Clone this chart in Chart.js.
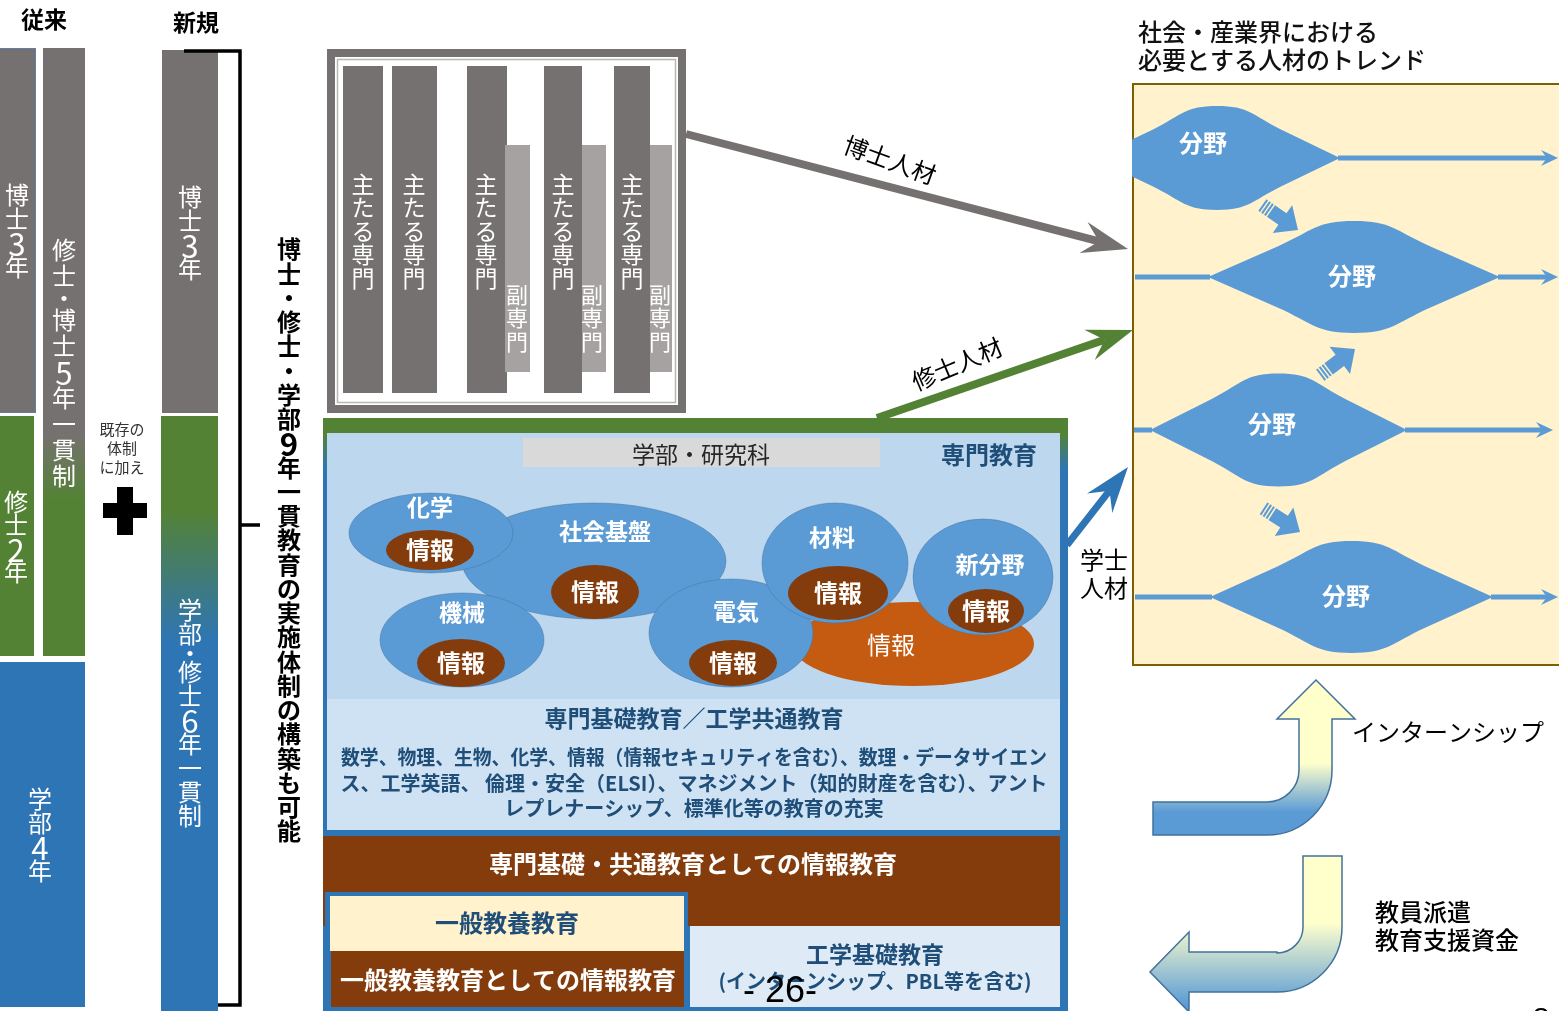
<!DOCTYPE html>
<html lang="ja">
<head>
<meta charset="utf-8">
<title>博士・修士・学部一貫教育の実施体制</title>
<script src="https://cdn.jsdelivr.net/npm/chart.js@4/dist/chart.umd.min.js"></script>
<style>
    html, body { margin: 0; padding: 0; background: #fff; overflow: hidden; }
    #wrap { position: relative; width: 1559px; height: 1011px; }
</style>
</head>
<body>
<div id="wrap"><canvas id="chart"></canvas></div>
<script>
// =============================================
// Data (texts of the diagram)
// =============================================
const headers = ['従来', '新規'];
const oldCourses = ['博士3年', '修士2年', '学部4年'];
const oldIntegrated = '修士・博士5年一貫制';
const newCourses = ['博士3年', '学部・修士6年一貫制'];
const bracketNote = '博士・修士・学部9年一貫教育の実施体制の構築も可能';
const addNote = ['既存の', '体制', 'に加え'];
const majorLabel = '主たる専門';
const minorLabel = '副専門';
const majorHasMinor = [false, false, true, true, true];
const talentLabels = ['博士人材', '修士人材', '学士', '人材'];
const schoolLabel = '学部・研究科';
const specialistLabel = '専門教育';
const fields = ['社会基盤', '化学', '機械', '電気', '材料', '新分野'];
const infoLabel = '情報';
const foundationTitle = '専門基礎教育／工学共通教育';
const foundationLines = [
    '数学、物理、生物、化学、情報（情報セキュリティを含む）、数理・データサイエン',
    'ス、工学英語、 倫理・安全（ELSI）、マネジメント（知的財産を含む）、アント',
    'レプレナーシップ、標準化等の教育の充実'
];
const infoBand = '専門基礎・共通教育としての情報教育';
const liberalArts = ['一般教養教育', '一般教養教育としての情報教育'];
const engBasics = ['工学基礎教育', '(インターンシップ、PBL等を含む)'];
const trendTitle = ['社会・産業界における', '必要とする人材のトレンド'];
const trendFields = ['分野', '分野', '分野', '分野'];
const exchangeLabels = ['インターンシップ', '教員派遣', '教育支援資金'];
const pageNumbers = ['- 26-', '8'];

// =============================================
// Styles
// =============================================
const FONT = '"Noto Sans CJK JP", "Noto Sans", sans-serif';
const C = {
    gray: '#767171', grayLight: '#a5a2a1', green: '#548235', blue: '#2e75b6',
    sky: '#bdd7ee', skyLight: '#cfe2f3', pale: '#deebf7', brown: '#843c0c',
    orange: '#c55a11', bubble: '#5b9bd5', cream: '#fff2cc', navy: '#1f4e79',
    gold: '#7f6000', yellow: '#ffffcc', outline: '#41719c'
};

// =============================================
// Diagram plugin (everything is placed through the chart scales)
// =============================================
const diagram = {
    id: 'diagram',
    afterDraw(chart) {
        const ctx = chart.ctx;
        const sx = chart.scales.x, sy = chart.scales.y;
        const X = v => sx.getPixelForValue(v);
        const Y = v => sy.getPixelForValue(v);

        function box(x0, y0, x1, y1, fill) {
            ctx.fillStyle = fill;
            ctx.fillRect(X(x0), Y(y0), X(x1) - X(x0), Y(y1) - Y(y0));
        }
        function vGrad(y0, y1, c0, c1) {
            const g = ctx.createLinearGradient(0, Y(y0), 0, Y(y1));
            g.addColorStop(0, c0);
            g.addColorStop(1, c1);
            return g;
        }
        function txt(s, x, y, size, color, weight, opt) {
            opt = opt || {};
            ctx.font = (weight || 'normal') + ' ' + size + 'px ' + (opt.family || FONT);
            ctx.fillStyle = color;
            ctx.textAlign = opt.align || 'center';
            ctx.textBaseline = 'middle';
            if (opt.maxWidth) ctx.fillText(s, X(x), Y(y), opt.maxWidth);
            else ctx.fillText(s, X(x), Y(y));
        }
        // stacked vertical text; digits drawn larger, dotStep shortens the middle dot
        function vtxt(s, cx, y0, size, step, color, weight, dotStep) {
            let y = y0;
            Array.from(s).forEach(ch => {
                const st = (ch === '・' && dotStep) ? dotStep : step;
                const isDigit = /[0-9]/.test(ch);
                txt(ch, cx, y + st / 2 + (isDigit ? 1 : 0), isDigit ? size * 1.3 : size, color, weight);
                y += st;
            });
        }
        function rtxt(s, x, y, deg, size, color) {
            ctx.save();
            ctx.translate(X(x), Y(y));
            ctx.rotate(deg * Math.PI / 180);
            ctx.font = 'normal ' + size + 'px ' + FONT;
            ctx.fillStyle = color;
            ctx.textAlign = 'center';
            ctx.textBaseline = 'middle';
            ctx.fillText(s, 0, 0);
            ctx.restore();
        }
        function ell(cx, cy, rx, ry, fill, stroke) {
            ctx.beginPath();
            ctx.ellipse(X(cx), Y(cy), rx, ry, 0, 0, Math.PI * 2);
            ctx.fillStyle = fill;
            ctx.fill();
            if (stroke) {
                ctx.lineWidth = 1;
                ctx.strokeStyle = stroke;
                ctx.stroke();
            }
        }
        function bigArrow(x0, y0, x1, y1, color, width) {
            const dx = x1 - x0, dy = y1 - y0, len = Math.hypot(dx, dy);
            const ux = dx / len, uy = dy / len, nx = -uy, ny = ux;
            const L = 46, W = 16, notch = 30;
            ctx.strokeStyle = color;
            ctx.lineWidth = width;
            ctx.lineCap = 'butt';
            ctx.beginPath();
            ctx.moveTo(X(x0), Y(y0));
            ctx.lineTo(X(x1 - ux * notch), Y(y1 - uy * notch));
            ctx.stroke();
            ctx.fillStyle = color;
            ctx.beginPath();
            ctx.moveTo(X(x1), Y(y1));
            ctx.lineTo(X(x1 - ux * L + nx * W), Y(y1 - uy * L + ny * W));
            ctx.lineTo(X(x1 - ux * notch), Y(y1 - uy * notch));
            ctx.lineTo(X(x1 - ux * L - nx * W), Y(y1 - uy * L - ny * W));
            ctx.closePath();
            ctx.fill();
        }
        function leaf(xl, xr, cy, H) {
            const w = xr - xl, cx = (xl + xr) / 2;
            ctx.beginPath();
            ctx.moveTo(X(xl), Y(cy));
            ctx.lineTo(X(xl + 0.24 * w), Y(cy - 0.55 * H));
            ctx.bezierCurveTo(X(xl + 0.36 * w), Y(cy - 0.83 * H), X(cx - 0.13 * w), Y(cy - H), X(cx), Y(cy - H));
            ctx.bezierCurveTo(X(cx + 0.13 * w), Y(cy - H), X(xr - 0.36 * w), Y(cy - 0.83 * H), X(xr - 0.24 * w), Y(cy - 0.55 * H));
            ctx.lineTo(X(xr), Y(cy));
            ctx.lineTo(X(xr - 0.24 * w), Y(cy + 0.55 * H));
            ctx.bezierCurveTo(X(xr - 0.36 * w), Y(cy + 0.83 * H), X(cx + 0.13 * w), Y(cy + H), X(cx), Y(cy + H));
            ctx.bezierCurveTo(X(cx - 0.13 * w), Y(cy + H), X(xl + 0.36 * w), Y(cy + 0.83 * H), X(xl + 0.24 * w), Y(cy + 0.55 * H));
            ctx.closePath();
            ctx.fillStyle = C.bubble;
            ctx.fill();
        }
        function flowLine(x0, x1, cy, withHead) {
            ctx.strokeStyle = C.bubble;
            ctx.lineWidth = 5;
            ctx.beginPath();
            ctx.moveTo(X(x0), Y(cy));
            ctx.lineTo(X(withHead ? x1 - 10 : x1), Y(cy));
            ctx.stroke();
            if (withHead) {
                ctx.fillStyle = C.bubble;
                ctx.beginPath();
                ctx.moveTo(X(x1), Y(cy));
                ctx.lineTo(X(x1 - 17), Y(cy - 8));
                ctx.lineTo(X(x1 - 11), Y(cy));
                ctx.lineTo(X(x1 - 17), Y(cy + 8));
                ctx.closePath();
                ctx.fill();
            }
        }
        function blockArrow(tx, ty, deg) {
            ctx.save();
            ctx.translate(X(tx), Y(ty));
            ctx.rotate(deg * Math.PI / 180);
            ctx.fillStyle = C.bubble;
            ctx.beginPath();
            ctx.moveTo(0, 0);
            ctx.lineTo(-19, -17);
            ctx.lineTo(-19, -7);
            ctx.lineTo(-33, -7);
            ctx.lineTo(-33, 7);
            ctx.lineTo(-19, 7);
            ctx.lineTo(-19, 17);
            ctx.closePath();
            ctx.fill();
            [-36.5, -40, -43.5].forEach(s => ctx.fillRect(s, -7, 2, 14));
            ctx.restore();
        }

        ctx.save();

        // ---------- 従来 / 新規 columns ----------
        txt(headers[0], 44, 19, 23, '#000', 'bold');
        txt(headers[1], 196, 22, 23, '#000', 'bold');

        box(0, 48, 36, 413, C.gray);
        ctx.strokeStyle = '#5f7fa6';
        ctx.lineWidth = 1;
        ctx.strokeRect(X(0) - 1, Y(48.5), 36.5, 364);
        box(0, 416, 34, 656, C.green);
        box(43, 48, 85, 656, vGrad(433, 500, C.gray, C.green));
        box(0, 662, 85, 1007, C.blue);

        vtxt(oldCourses[0], 17, 183, 24, 24, '#fff');
        vtxt(oldIntegrated, 64, 237, 24, 26, '#fff', 'normal', 18);
        vtxt(oldCourses[1], 16, 490, 24, 23.5, '#fff');
        vtxt(oldCourses[2], 40, 787, 24, 24, '#fff');

        addNote.forEach((s, i) => txt(s, 122, 429 + i * 19, 15, '#333'));
        box(103, 503, 147, 518, '#000');
        box(117, 487, 133, 535, '#000');

        box(162, 50, 218, 413, C.gray);
        box(161, 416, 218, 1011, vGrad(510, 643, C.green, C.blue));
        vtxt(newCourses[0], 190, 185, 24, 24, '#fff');
        vtxt(newCourses[1], 190, 598, 24, 24, '#fff', 'normal', 14);

        ctx.strokeStyle = '#000';
        ctx.lineWidth = 3.5;
        ctx.beginPath();
        ctx.moveTo(X(184), Y(51));
        ctx.lineTo(X(240), Y(51));
        ctx.lineTo(X(240), Y(1005));
        ctx.lineTo(X(218), Y(1005));
        ctx.moveTo(X(240), Y(525));
        ctx.lineTo(X(260), Y(525));
        ctx.stroke();
        vtxt(bracketNote, 289, 237, 24, 24.25, '#000', 'bold');

        // ---------- 主たる専門 / 副専門 box ----------
        box(327, 49, 686, 413, C.gray);
        box(335, 57, 678, 405, '#fff');
        ctx.strokeStyle = '#b8b6b6';
        ctx.lineWidth = 1.5;
        ctx.strokeRect(X(337.5), Y(59.5), 338, 343);
        const majors = [[343, 383], [392, 437], [467, 507], [544, 582], [614, 650]];
        const minors = [null, null, [505, 530], [582, 606], [650, 672]];
        majors.forEach((m, i) => {
            box(m[0], 66, m[1], 393, C.gray);
            if (majorHasMinor[i]) box(minors[i][0], 145, minors[i][1], 372, C.grayLight);
        });
        [363, 414, 486, 563, 632].forEach(cx => vtxt(majorLabel, cx, 172, 23, 23.6, '#fff'));
        [517, 592, 660].forEach(cx => vtxt(minorLabel, cx, 283, 22, 23.3, '#fff'));

        // ---------- main education box ----------
        box(323, 418, 1068, 1015, vGrad(433, 470, C.green, C.blue));
        box(327, 433, 1060, 699, C.sky);
        box(327, 699, 1060, 830, C.skyLight);
        box(523, 438, 880, 467, '#d9d9d9');
        txt(schoolLabel, 701, 454, 23, '#262626');
        txt(specialistLabel, 989, 455, 24, C.navy, 'bold');

        // fields with their 情報 core
        ell(913, 644, 121, 42, C.orange);
        txt(infoLabel, 891, 645, 24, '#fff');
        const bubbles = [
            [594, 561, 132, 58], [431, 533, 82, 40], [462, 640, 82, 47],
            [731, 633, 82, 54], [835, 563, 73, 60], [983, 577, 70, 58]
        ];
        const bubbleLabels = [[605, 531], [430, 507], [462, 612], [736, 611], [832, 537], [990, 564]];
        const cores = [
            [595, 592, 44, 27], [430, 550, 44, 20], [461, 663, 44, 24],
            [733, 663, 44, 23], [838, 593, 50, 27], [986, 611, 38, 22]
        ];
        fields.forEach((f, i) => {
            const b = bubbles[i], k = cores[i];
            ell(b[0], b[1], b[2], b[3], C.bubble, 'rgba(65,113,156,0.45)');
            ell(k[0], k[1], k[2], k[3], C.brown);
            txt(f, bubbleLabels[i][0], bubbleLabels[i][1], 23, '#fff', 'bold');
            txt(infoLabel, k[0], k[1], 24, '#fff', 'bold');
        });

        txt(foundationTitle, 694, 718, 23, C.navy, 'bold', { maxWidth: 312 });
        const lineY = [757, 783, 808];
        const lineW = [706, 718, 394];
        foundationLines.forEach((s, i) => txt(s, 694, lineY[i], 20, C.navy, 'bold', { maxWidth: lineW[i] }));

        box(323, 836, 1060, 926, C.brown);
        txt(infoBand, 693, 864, 24, '#fff', 'bold');
        box(325, 892, 688, 1015, C.blue);
        box(330, 896, 684, 951, C.cream);
        box(331, 951, 684, 1007, C.brown);
        txt(liberalArts[0], 507, 923, 24, C.navy, 'bold');
        txt(liberalArts[1], 508, 980, 24, '#fff', 'bold');
        box(690, 926, 1060, 1007, C.pale);
        txt(engBasics[0], 875, 954, 23, C.navy, 'bold');
        txt(engBasics[1], 875, 981, 20, C.navy, 'bold', { maxWidth: 314 });

        // ---------- trend box ----------
        trendTitle.forEach((s, i) => txt(s, 1138, 32 + i * 28, 24, '#111', '500', { align: 'left' }));
        box(1133, 84, 1570, 665, C.cream);
        ctx.strokeStyle = C.gold;
        ctx.lineWidth = 2;
        ctx.strokeRect(X(1133), Y(84), 440, 581);

        ctx.save();
        ctx.beginPath();
        ctx.rect(X(1132), Y(84), 440, 581);
        ctx.clip();
        leaf(1094, 1340, 158, 52);
        ctx.restore();
        flowLine(1338, 1558, 158, true);
        leaf(1208, 1500, 277, 56);
        flowLine(1135, 1210, 277, false);
        flowLine(1498, 1558, 277, true);
        leaf(1150, 1407, 430, 56.5);
        flowLine(1134, 1152, 430, false);
        flowLine(1405, 1553, 430, true);
        leaf(1210, 1493, 597, 56);
        flowLine(1135, 1212, 597, false);
        flowLine(1491, 1558, 597, true);
        const leafLabels = [[1203, 143], [1352, 276], [1272, 424], [1346, 596]];
        trendFields.forEach((s, i) => txt(s, leafLabels[i][0], leafLabels[i][1], 24, '#fff', 'bold'));
        blockArrow(1298, 230, 35);
        blockArrow(1355, 349, -37);
        blockArrow(1300, 532, 33);

        // ---------- talent arrows ----------
        bigArrow(686, 134, 1128, 249, C.gray, 8);
        bigArrow(877, 418, 1133, 330, C.green, 8);
        bigArrow(1067, 545, 1128, 467, C.blue, 7);
        rtxt(talentLabels[0], 890, 160, 20, 24, '#000');
        rtxt(talentLabels[1], 957, 364, -23, 24, '#000');
        txt(talentLabels[2], 1104, 560, 24, '#000');
        txt(talentLabels[3], 1104, 588, 24, '#000');

        // ---------- exchange arrows ----------
        ctx.beginPath();
        ctx.moveTo(X(1316), Y(680));
        ctx.lineTo(X(1355), Y(719));
        ctx.lineTo(X(1332), Y(719));
        ctx.lineTo(X(1332), Y(770));
        ctx.arc(X(1267), Y(770), 65, 0, Math.PI / 2);
        ctx.lineTo(X(1153), Y(835));
        ctx.lineTo(X(1153), Y(802));
        ctx.lineTo(X(1267), Y(802));
        ctx.arc(X(1267), Y(770), 32, Math.PI / 2, 0, true);
        ctx.lineTo(X(1299), Y(719));
        ctx.lineTo(X(1277), Y(719));
        ctx.closePath();
        const g1 = ctx.createLinearGradient(0, Y(680), 0, Y(812));
        g1.addColorStop(0, C.yellow);
        g1.addColorStop(0.63, C.yellow);
        g1.addColorStop(1, C.bubble);
        ctx.fillStyle = g1;
        ctx.fill();
        ctx.strokeStyle = C.outline;
        ctx.lineWidth = 1.5;
        ctx.stroke();

        ctx.beginPath();
        ctx.moveTo(X(1303), Y(856));
        ctx.lineTo(X(1342), Y(856));
        ctx.lineTo(X(1342), Y(927));
        ctx.arc(X(1277), Y(927), 65, 0, Math.PI / 2);
        ctx.lineTo(X(1189), Y(992));
        ctx.lineTo(X(1189), Y(1012));
        ctx.lineTo(X(1150), Y(972));
        ctx.lineTo(X(1189), Y(932));
        ctx.lineTo(X(1189), Y(952));
        ctx.lineTo(X(1277), Y(952));
        ctx.arc(X(1277), Y(927), 26, Math.PI / 2, 0, true);
        ctx.closePath();
        const g2 = ctx.createLinearGradient(0, Y(856), 0, Y(1005));
        g2.addColorStop(0, C.yellow);
        g2.addColorStop(0.45, C.yellow);
        g2.addColorStop(1, C.bubble);
        ctx.fillStyle = g2;
        ctx.fill();
        ctx.stroke();

        txt(exchangeLabels[0], 1352, 732, 24, '#000', 'normal', { align: 'left' });
        txt(exchangeLabels[1], 1375, 912, 24, '#000', '500', { align: 'left' });
        txt(exchangeLabels[2], 1375, 940, 24, '#000', '500', { align: 'left' });

        // ---------- page numbers ----------
        txt(pageNumbers[0], 780, 992, 36, '#000', 'normal', { family: '"Liberation Sans", sans-serif' });
        txt(pageNumbers[1], 1541, 1020, 30, '#000', 'normal', { family: '"Liberation Sans", sans-serif' });

        ctx.restore();
    }
};

// =============================================
// Chart
// =============================================
const chart = new Chart(document.getElementById('chart'), {
    type: 'scatter',
    data: { datasets: [{ data: [], pointRadius: 0 }] },
    options: {
        responsive: true,
        maintainAspectRatio: false,
        animation: false,
        layout: { padding: 0 },
        plugins: { legend: { display: false }, tooltip: { enabled: false } },
        scales: {
            x: { type: 'linear', min: 0, max: 1559, display: false },
            y: { type: 'linear', min: 0, max: 1011, reverse: true, display: false }
        }
    },
    plugins: [diagram]
});
</script>
</body>
</html>
